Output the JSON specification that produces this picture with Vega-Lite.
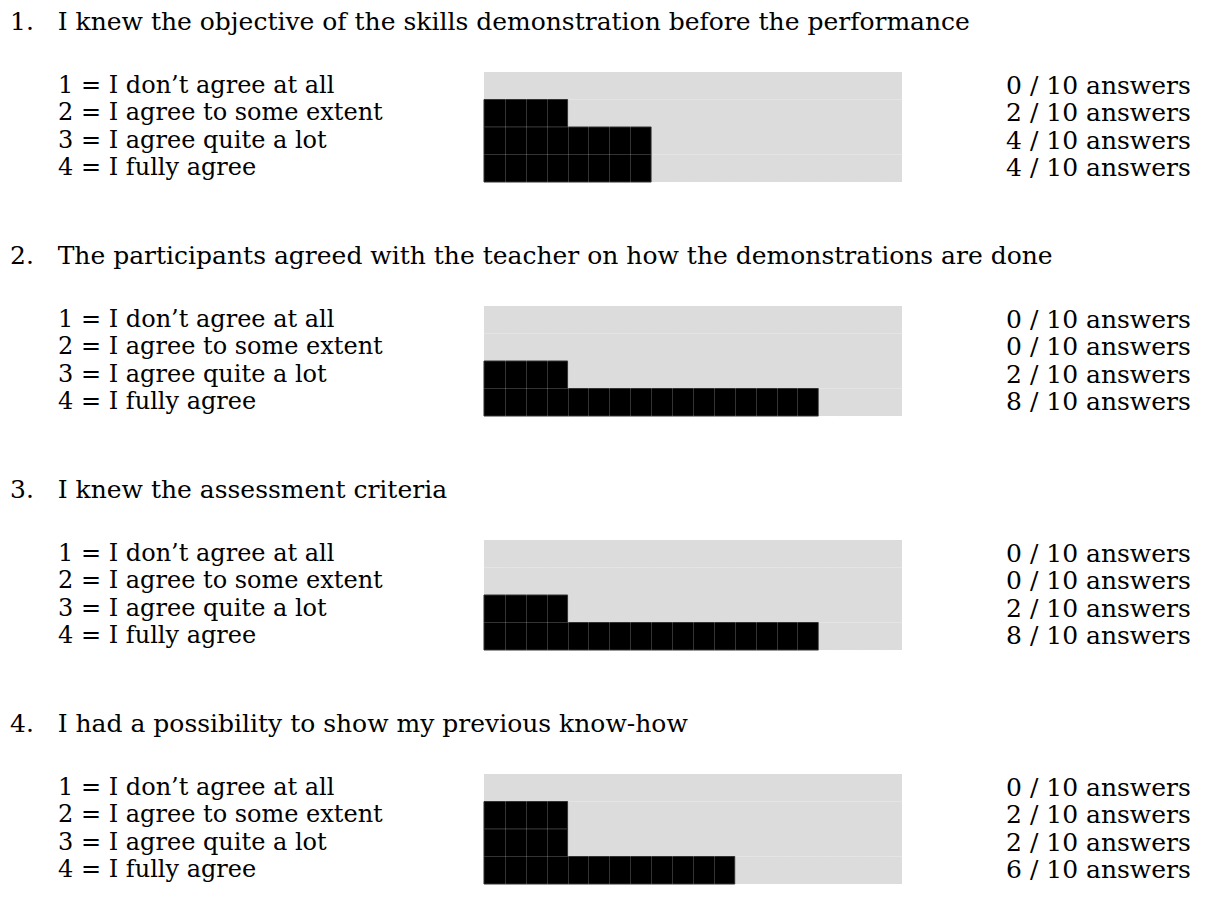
{
  "$schema": "https://vega.github.io/schema/vega-lite/v6.json",
  "padding": {"left": 10, "top": 10, "right": 0, "bottom": 0},
  "background": "white",
  "config": {"view": {"stroke": null}, "font": "DejaVu Serif", "text": {"font": "DejaVu Serif"}},
  "data": {"values": [
    {"question": "1.\u00a0\u00a0\u00a0I knew the objective of the skills demonstration before the performance", "option": "1 = I don’t agree at all", "count": 0},
    {"question": "1.\u00a0\u00a0\u00a0I knew the objective of the skills demonstration before the performance", "option": "2 = I agree to some extent", "count": 2},
    {"question": "1.\u00a0\u00a0\u00a0I knew the objective of the skills demonstration before the performance", "option": "3 = I agree quite a lot", "count": 4},
    {"question": "1.\u00a0\u00a0\u00a0I knew the objective of the skills demonstration before the performance", "option": "4 = I fully agree", "count": 4},
    {"question": "2.\u00a0\u00a0\u00a0The participants agreed with the teacher on how the demonstrations are done", "option": "1 = I don’t agree at all", "count": 0},
    {"question": "2.\u00a0\u00a0\u00a0The participants agreed with the teacher on how the demonstrations are done", "option": "2 = I agree to some extent", "count": 0},
    {"question": "2.\u00a0\u00a0\u00a0The participants agreed with the teacher on how the demonstrations are done", "option": "3 = I agree quite a lot", "count": 2},
    {"question": "2.\u00a0\u00a0\u00a0The participants agreed with the teacher on how the demonstrations are done", "option": "4 = I fully agree", "count": 8},
    {"question": "3.\u00a0\u00a0\u00a0I knew the assessment criteria", "option": "1 = I don’t agree at all", "count": 0},
    {"question": "3.\u00a0\u00a0\u00a0I knew the assessment criteria", "option": "2 = I agree to some extent", "count": 0},
    {"question": "3.\u00a0\u00a0\u00a0I knew the assessment criteria", "option": "3 = I agree quite a lot", "count": 2},
    {"question": "3.\u00a0\u00a0\u00a0I knew the assessment criteria", "option": "4 = I fully agree", "count": 8},
    {"question": "4.\u00a0\u00a0\u00a0I had a possibility to show my previous know-how", "option": "1 = I don’t agree at all", "count": 0},
    {"question": "4.\u00a0\u00a0\u00a0I had a possibility to show my previous know-how", "option": "2 = I agree to some extent", "count": 2},
    {"question": "4.\u00a0\u00a0\u00a0I had a possibility to show my previous know-how", "option": "3 = I agree quite a lot", "count": 2},
    {"question": "4.\u00a0\u00a0\u00a0I had a possibility to show my previous know-how", "option": "4 = I fully agree", "count": 6}
  ]},
  "transform": [{"calculate": "datum.count + ' / 10 answers'", "as": "answers"}],
  "facet": {
    "row": {
      "field": "question", "type": "nominal", "title": null,
      "header": {"labelOrient": "top", "labelAnchor": "start", "labelAlign": "left", "labelAngle": 0,
                 "labelFontSize": 25, "labelFont": "DejaVu Serif", "labelColor": "black", "labelPadding": 12, "labelLimit": 0}
    }
  },
  "spacing": 61,
  "spec": {
    "width": 1190,
    "height": 110,
    "encoding": {
      "y": {"field": "option", "type": "ordinal", "axis": null, "scale": {"paddingInner": 0, "paddingOuter": 0}}
    },
    "layer": [
      {
        "mark": {"type": "bar", "fill": "#dcdcdc"},
        "encoding": {
          "x": {"datum": 0, "type": "quantitative",
                "scale": {"domain": [-11.34, 17.13], "nice": false, "zero": false},
                "axis": {"grid": true, "values": [0.5,1,1.5,2,2.5,3,3.5,4,4.5,5,5.5,6,6.5,7,7.5,8,8.5,9,9.5],
                         "labels": false, "ticks": false, "domain": false, "title": null,
                         "gridColor": "#dcdcdc", "gridOpacity": 0.23, "zindex": 1}},
          "x2": {"datum": 10}
        }
      },
      {
        "transform": [{"filter": "datum.count > 0"}],
        "mark": {"type": "bar", "fill": "black", "stroke": "#333333", "strokeWidth": 1},
        "encoding": {
          "x": {"field": "count", "type": "quantitative"},
          "x2": {"datum": 0}
        }
      },
      {
        "mark": {"type": "text", "align": "left", "baseline": "middle", "fontSize": 24, "color": "black"},
        "encoding": {"x": {"datum": -10.19}, "text": {"field": "option"}}
      },
      {
        "mark": {"type": "text", "align": "left", "baseline": "middle", "fontSize": 25, "color": "black"},
        "encoding": {"x": {"datum": 12.49}, "text": {"field": "answers"}}
      }
    ]
  }
}
